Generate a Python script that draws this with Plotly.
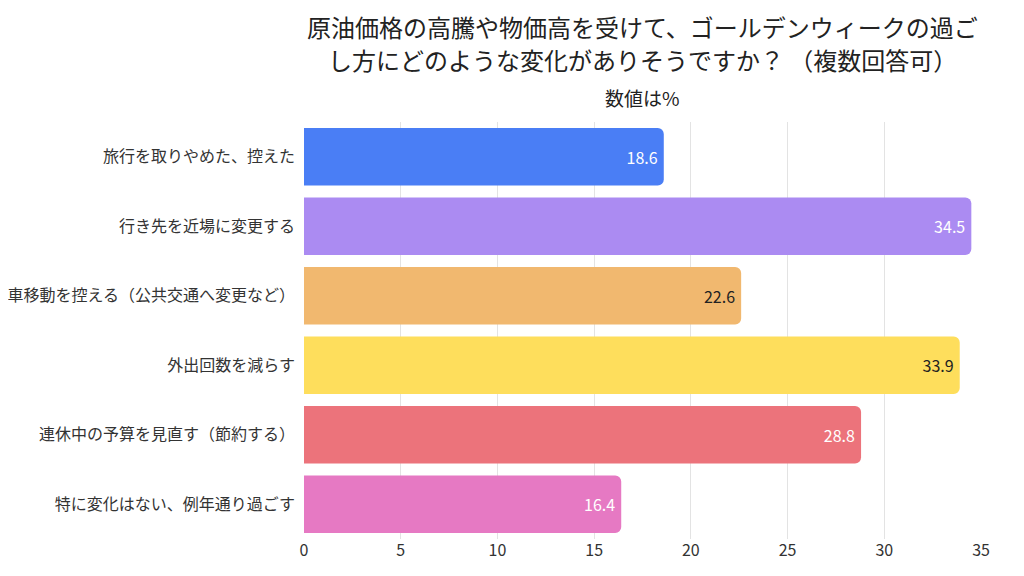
"""Golden Week survey: horizontal bar chart of changes in plans."""

import plotly.graph_objects as go

FONT = "Noto Sans CJK JP"

categories = [
    "旅行を取りやめた、控えた",
    "行き先を近場に変更する",
    "車移動を控える（公共交通へ変更など）",
    "外出回数を減らす",
    "連休中の予算を見直す（節約する）",
    "特に変化はない、例年通り過ごす",
]
values = [18.6, 34.5, 22.6, 33.9, 28.8, 16.4]
bar_colors = ["#4a7ef5", "#ab8bf2", "#f1b86f", "#fede5c", "#ec737b", "#e679c3"]
text_colors = ["white", "white", "#222222", "#222222", "white", "white"]

title_lines = [
    "原油価格の高騰や物価高を受けて、ゴールデンウィークの過ご",
    "し方にどのような変化がありそうですか？ （複数回答可）",
]
subtitle_text = "数値は%"

fig = go.Figure()
fig.add_trace(
    go.Bar(
        x=values,
        y=categories,
        orientation="h",
        marker=dict(color=bar_colors, line=dict(width=0)),
        text=[f"{v:.1f}" for v in values],
        textposition="inside",
        insidetextanchor="end",
        textfont=dict(family=FONT, size=16, color=text_colors),
        hoverinfo="x+y",
    )
)

header = [
    (title_lines[0], 1.228, 24),
    (title_lines[1], 1.149, 24),
    (subtitle_text, 1.058, 19),
]
annotations = [
    dict(
        text=text,
        xref="paper",
        yref="paper",
        x=0.5,
        y=y,
        xanchor="center",
        yanchor="middle",
        showarrow=False,
        font=dict(family=FONT, size=size, color="#222222"),
    )
    for text, y, size in header
]

# the page body adds an 8px offset, so margins are shifted to compensate
fig.update_layout(
    width=1024,
    height=576,
    paper_bgcolor="white",
    plot_bgcolor="white",
    font=dict(family=FONT, color="#222222"),
    margin=dict(l=296, r=51, t=114, b=45),
    bargap=0.17,
    barcornerradius=6,
    showlegend=False,
    annotations=annotations,
)
fig.update_xaxes(
    range=[0, 35],
    dtick=5,
    showgrid=True,
    gridcolor="#e3e3e3",
    zeroline=False,
    automargin=False,
    tickfont=dict(family=FONT, size=16, color="#333333"),
    ticks="",
    ticklabelstandoff=0,
)
fig.update_yaxes(
    autorange="reversed",
    automargin=False,
    tickfont=dict(family=FONT, size=16, color="#333333"),
    ticks="",
    ticklabelstandoff=8,
)

fig.write_html("out.html")
